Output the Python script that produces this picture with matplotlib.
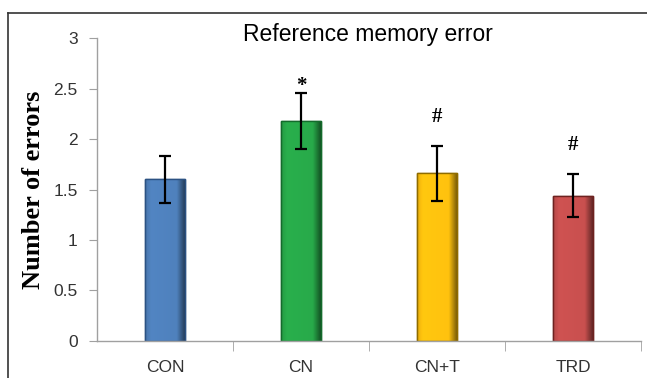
import matplotlib.pyplot as plt
import numpy as np
from matplotlib.lines import Line2D
from matplotlib.colors import to_rgb

# group means and standard errors
groups = ["CON", "CN", "CN+T", "TRD"]
means = [1.60, 2.18, 1.66, 1.44]
errors = [0.23, 0.28, 0.27, 0.21]
marks = ["", "*", "#", "#"]

face = ["#4f81bd", "#28aa4a", "#ffc20e", "#c9504f"]
edge = ["#2c5283", "#146b2c", "#8f6c00", "#6e2220"]

fig = plt.figure(figsize=(6.47, 3.78), dpi=100)
ax = fig.add_axes([0.150, 0.098, 0.841, 0.801])

# frame lines along the top and left of the figure
fig.lines.append(Line2D([0.012, 1.0], [0.966, 0.966], transform=fig.transFigure,
                        color="#333333", linewidth=1.2))
fig.lines.append(Line2D([0.012, 0.012], [0.0, 0.966], transform=fig.transFigure,
                        color="#333333", linewidth=1.2))

x = np.arange(len(groups))
bars = ax.bar(x, means, width=0.29, color=face, edgecolor=edge, linewidth=1.0, zorder=2)

# shaded bevel across each bar: flat face, dark strip on the right
shade = np.interp(np.linspace(0, 1, 64), [0, 0.05, 0.15, 0.8, 0.9, 1.0],
                  [0.85, 0.95, 1.03, 1.0, 0.75, 0.5])
for b, c in zip(bars, face):
    rgb = np.clip(np.array(to_rgb(c))[None, :] * shade[:, None], 0, 1)
    img = ax.imshow(rgb[None, :, :], aspect="auto", zorder=2.1,
                    extent=[b.get_x(), b.get_x() + b.get_width(), 0, b.get_height()])
    img.set_clip_path(b)
ax.bar(x, means, width=0.29, color="none", edgecolor=edge, linewidth=1.0, zorder=2.2)

ax.errorbar(x, means, yerr=errors, fmt="none", ecolor="black",
            elinewidth=1.6, capsize=4.5, capthick=1.6, zorder=3)

offsets = {"*": 0.02, "#": 0.24}
for xi, m, e, s in zip(x, means, errors, marks):
    if s:
        ax.text(xi, m + e + offsets[s], s, ha="center", va="baseline",
                fontsize=15, fontweight="bold", family="Liberation Serif", zorder=4)

ax.set_xlim(-0.5, 3.5)
ax.set_ylim(0, 3)
ax.set_yticks([0, 0.5, 1, 1.5, 2, 2.5, 3])
ax.set_yticklabels(["0", "0.5", "1", "1.5", "2", "2.5", "3"])
ax.set_xticks(x)
ax.set_xticklabels(groups)
ax.set_xticks(np.arange(0.5, 4, 1), minor=True)

for side in ["top", "right"]:
    ax.spines[side].set_visible(False)
for side in ["left", "bottom"]:
    ax.spines[side].set_color("#a0a0a0")
    ax.spines[side].set_linewidth(1.0)

ax.tick_params(axis="y", length=6, color="#a0a0a0", labelsize=12.5,
               labelcolor="#333333", pad=8)
ax.tick_params(axis="x", which="major", length=0, labelsize=12.5,
               labelcolor="#333333", pad=14)
ax.tick_params(axis="x", which="minor", length=7, color="#a0a0a0")
for lab in ax.get_xticklabels() + ax.get_yticklabels():
    lab.set_family("Liberation Sans")

ax.set_ylabel("Number of errors", fontsize=19, fontweight="bold",
              family="Liberation Serif", labelpad=6)
fig.text(0.569, 0.910, "Reference memory error", ha="center", va="center",
         fontsize=16.5, family="Liberation Sans")

fig.savefig("out.png", dpi=100)
